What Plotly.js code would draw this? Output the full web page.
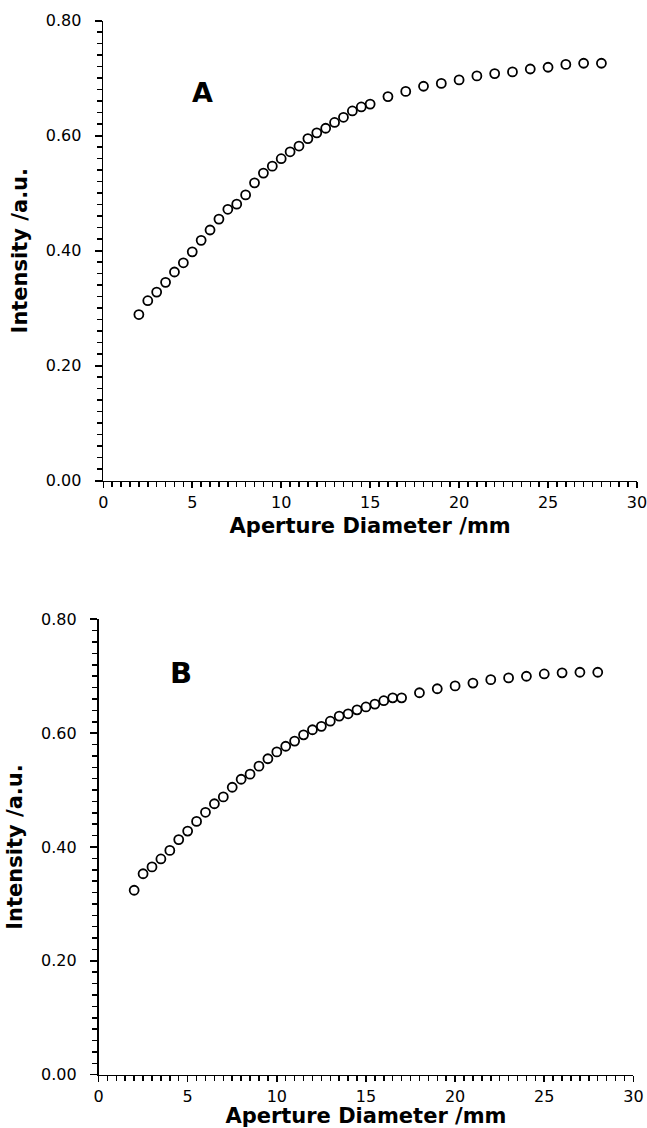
<!DOCTYPE html>
<html>
<head>
<meta charset="utf-8">
<script src="https://cdn.plot.ly/plotly-3.0.1.min.js"></script>
<style>
  html, body { margin: 0; padding: 0; background: #fff; }
  #chart { width: 647px; height: 1128px; }
</style>
</head>
<body>
<div id="chart"></div>
<script>
// Panel A: aperture diameter (mm) vs intensity (a.u.)
const xA = [2, 2.5, 3, 3.5, 4, 4.5, 5, 5.5, 6, 6.5, 7, 7.5, 8, 8.5, 9, 9.5, 10, 10.5, 11, 11.5, 12, 12.5, 13, 13.5, 14, 14.5, 15,
            16, 17, 18, 19, 20, 21, 22, 23, 24, 25, 26, 27, 28];
const yA = [0.289, 0.313, 0.328, 0.345, 0.363, 0.379, 0.398, 0.418, 0.436, 0.455, 0.472, 0.481, 0.497, 0.518, 0.535, 0.547, 0.560, 0.572, 0.582, 0.595, 0.605, 0.613, 0.623, 0.632, 0.643, 0.650, 0.655,
            0.668, 0.677, 0.686, 0.691, 0.697, 0.704, 0.708, 0.711, 0.716, 0.719, 0.724, 0.726, 0.726];

// Panel B
const xB = [2, 2.5, 3, 3.5, 4, 4.5, 5, 5.5, 6, 6.5, 7, 7.5, 8, 8.5, 9, 9.5, 10, 10.5, 11, 11.5, 12, 12.5, 13, 13.5, 14, 14.5, 15, 15.5, 16, 16.5, 17,
            18, 19, 20, 21, 22, 23, 24, 25, 26, 27, 28];
const yB = [0.324, 0.353, 0.365, 0.379, 0.394, 0.413, 0.428, 0.445, 0.461, 0.476, 0.488, 0.505, 0.519, 0.528, 0.542, 0.555, 0.567, 0.577, 0.586, 0.597, 0.606, 0.612, 0.621, 0.630, 0.634, 0.641, 0.646, 0.651, 0.657, 0.662, 0.662,
            0.671, 0.678, 0.683, 0.688, 0.694, 0.697, 0.700, 0.704, 0.706, 0.707, 0.707];

const panelLabels = ['A', 'B'];
const xTitle = 'Aperture Diameter /mm';
const yTitle = 'Intensity /a.u.';

const FONT = 'DejaVu Sans, Liberation Sans, Arial, sans-serif';
const marker = { symbol: 'circle-open', size: 9, color: '#000', line: { width: 1.8, color: '#000' } };

const traces = [
  { x: xA, y: yA, type: 'scatter', mode: 'markers', marker: marker, xaxis: 'x', yaxis: 'y', showlegend: false, hoverinfo: 'x+y' },
  { x: xB, y: yB, type: 'scatter', mode: 'markers', marker: marker, xaxis: 'x2', yaxis: 'y2', showlegend: false, hoverinfo: 'x+y' }
];

function xAxis(domain, anchor) {
  return {
    domain: domain, anchor: anchor, range: [0, 30], autorange: false,
    tickmode: 'linear', tick0: 0, dtick: 5,
    ticks: 'outside', ticklen: 6, tickwidth: 1.6, tickcolor: '#000',
    minor: { tickmode: 'linear', tick0: 0, dtick: 0.5, ticks: 'outside', ticklen: 5, tickwidth: 1.5, tickcolor: '#000', showgrid: false },
    showline: true, linecolor: '#000', linewidth: 1.7,
    showgrid: false, zeroline: false,
    ticklabeloverflow: 'allow',
    tickfont: { family: FONT, size: 16, color: '#000' },
    title: { text: xTitle, standoff: 8, font: { family: FONT, size: 21, color: '#000', weight: 'bold' } }
  };
}
function yAxis(domain, anchor) {
  return {
    domain: domain, anchor: anchor, range: [0, 0.8], autorange: false,
    tickmode: 'linear', tick0: 0, dtick: 0.2, tickformat: '.2f',
    ticks: 'outside', ticklen: 7, tickwidth: 1.6, tickcolor: '#000',
    minor: { tickmode: 'linear', tick0: 0, dtick: 0.02, ticks: 'outside', ticklen: 5, tickwidth: 1.5, tickcolor: '#000', showgrid: false },
    showline: true, linecolor: '#000', linewidth: 1.7,
    showgrid: false, zeroline: false,
    ticklabelstandoff: 10,
    ticklabeloverflow: 'allow',
    tickfont: { family: FONT, size: 16, color: '#000' },
    title: { text: yTitle, standoff: 12, font: { family: FONT, size: 21, color: '#000', weight: 'bold' } }
  };
}

const layout = {
  width: 647, height: 1128,
  margin: { l: 0, r: 0, t: 0, b: 0 },
  paper_bgcolor: '#fff', plot_bgcolor: '#fff',
  font: { family: FONT, color: '#000' },
  showlegend: false,
  xaxis: xAxis([103.3 / 647, 637 / 647], 'y'),
  yaxis: yAxis([1 - 480.7 / 1128, 1 - 20.7 / 1128], 'x'),
  xaxis2: xAxis([98.5 / 647, 633.4 / 647], 'y2'),
  yaxis2: yAxis([1 - 1074.7 / 1128, 1 - 619.3 / 1128], 'x2'),
  annotations: [
    { text: panelLabels[0], xref: 'x', yref: 'y', x: 5.55, y: 0.676, showarrow: false,
      font: { family: FONT, size: 27, color: '#000', weight: 'bold' } },
    { text: panelLabels[1], xref: 'x2', yref: 'y2', x: 4.63, y: 0.705, showarrow: false,
      font: { family: FONT, size: 29, color: '#000', weight: 'bold' } }
  ]
};

Plotly.newPlot('chart', traces, layout, { displayModeBar: false, staticPlot: true });
</script>
</body>
</html>
